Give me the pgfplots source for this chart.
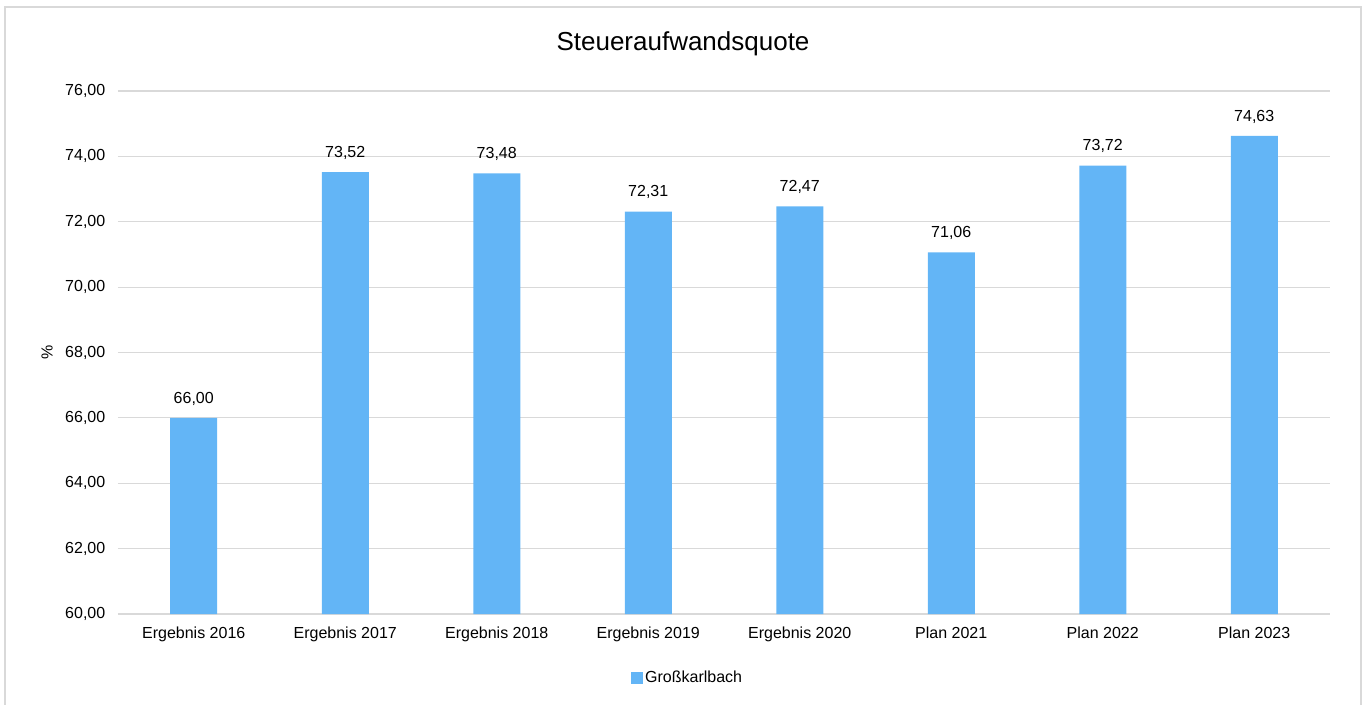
\documentclass[border=0pt]{standalone}
\usepackage{pgfplots}
\pgfplotsset{compat=1.18}
\usepackage{fontspec}
\setmainfont{Liberation Sans}
\definecolor{barblue}{HTML}{63B5F6}
\definecolor{gridgray}{HTML}{D9D9D9}
\begin{document}
\begin{tikzpicture}[font=\fontsize{12}{14}\selectfont]
% frame of the chart area (1 px = 0.75 pt, origin = lower left of the axis)
\useasboundingbox (-88.5pt,-67.5pt) rectangle (936pt,460.5pt);
\draw[gridgray, line width=0.9pt] (-84.75pt,-80pt) rectangle (932.25pt,455.25pt);
\node[font=\fontsize{19.5}{23}\selectfont] at (423.75pt,427.5pt) {Steueraufwandsquote};
\begin{axis}[
    at={(0,0)}, anchor=south west,
    scale only axis,
    width=909pt, height=392.25pt,
    ybar, bar width=35.25pt,
    xmin=-0.5, xmax=7.5,
    ymin=60, ymax=76,
    ytick={60,62,...,76},
    xtick=data,
    xticklabels={Ergebnis 2016,Ergebnis 2017,Ergebnis 2018,Ergebnis 2019,Ergebnis 2020,Plan 2021,Plan 2022,Plan 2023},
    axis x line*=bottom,
    axis y line*=left,
    x axis line style={gridgray, line width=1pt, -},
    y axis line style={draw=none},
    ymajorgrids,
    grid style={gridgray, line width=0.9pt},
    major tick length=0pt,
    ytick style={draw=none}, xtick style={draw=none},
    yticklabel style={anchor=east, xshift=-6pt},
    xticklabel style={anchor=north, yshift=-6pt},
    yticklabel={\pgfmathprintnumber[fixed,fixed zerofill,precision=2,use comma,assume math mode=true]{\tick}},
    ylabel={\%},
    every axis y label/.style={at={(rel axis cs:0,0.5)}, xshift=-53.25pt, rotate=90, anchor=center},
    nodes near coords={\pgfmathprintnumber[fixed,fixed zerofill,precision=2,use comma,assume math mode=true]{\pgfplotspointmeta}},
    every node near coord/.append style={font=\fontsize{12}{14}\selectfont, color=black, yshift=6pt},
    legend style={at={(0.470,-0.122)}, anchor=center, draw=none, fill=none},
    legend image code/.code={\fill[barblue] (0pt,-4.5pt) rectangle (9pt,4.5pt);},
    clip=false,
]
\addplot[fill=barblue, draw=none] coordinates {
    (0,66.00) (1,73.52) (2,73.48) (3,72.31) (4,72.47) (5,71.06) (6,73.72) (7,74.63)
};
\addlegendentry{Großkarlbach}
\end{axis}
\end{tikzpicture}
\end{document}
